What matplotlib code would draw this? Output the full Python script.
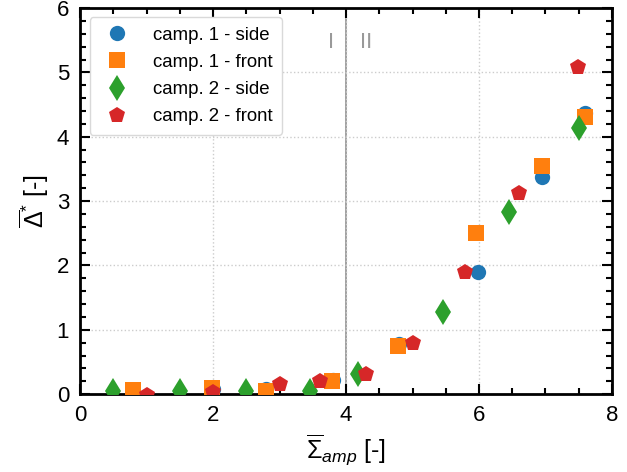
import matplotlib
matplotlib.use('Agg')
from matplotlib import pyplot as plt
from matplotlib.ticker import MultipleLocator

plt.rcParams['font.family'] = ['Liberation Sans', 'DejaVu Sans']
plt.rcParams['mathtext.fontset'] = 'custom'
plt.rcParams['mathtext.rm'] = 'Liberation Sans'
plt.rcParams['mathtext.it'] = 'Liberation Sans:italic'
plt.rcParams['mathtext.bf'] = 'Liberation Sans:bold'

# campagna 1 - side
c1_side_x = [0.8, 2.0, 2.8, 3.8, 4.8, 5.98, 6.95, 7.6]
c1_side_y = [0.05, 0.08, 0.08, 0.22, 0.78, 1.9, 3.37, 4.37]
# campagna 1 - front
c1_front_x = [0.8, 1.98, 2.79, 3.79, 4.78, 5.95, 6.94, 7.6]
c1_front_y = [0.07, 0.1, 0.05, 0.2, 0.75, 2.5, 3.55, 4.31]
# campagna 2 - side
c2_side_x = [0.5, 1.5, 2.49, 3.46, 4.18, 5.46, 6.45, 7.5]
c2_side_y = [0.05, 0.05, 0.05, 0.05, 0.31, 1.27, 2.83, 4.14]
# campagna 2 - front
c2_front_x = [1.0, 2.0, 3.0, 3.6, 4.3, 5.0, 5.79, 6.6, 7.49]
c2_front_y = [-0.02, 0.03, 0.16, 0.2, 0.32, 0.8, 1.9, 3.12, 5.09]

fig = plt.figure(figsize=(6.27, 4.72), dpi=100)
ax = fig.add_axes([0.128, 0.165, 0.848, 0.818])

ax.grid(True, which='major', color='0.8', linestyle=':', linewidth=1)
ax.axvline(4, color='0.6', linewidth=1.3, zorder=1)
ax.text(3.78, 5.47, 'I', color='0.6', fontsize=16, ha='center', va='center')
ax.text(4.3, 5.47, 'II', color='0.6', fontsize=16, ha='center', va='center')

ax.plot(c1_side_x, c1_side_y, 'o', color='#1f77b4', ms=11, mew=0, label='camp. 1 - side', zorder=3)
ax.plot(c1_front_x, c1_front_y, 's', color='#ff7f0e', ms=11, mew=0, label='camp. 1 - front', zorder=3)
ax.plot(c2_side_x, c2_side_y, 'd', color='#2ca02c', ms=13, mew=0, label='camp. 2 - side', zorder=3)
ax.plot(c2_front_x, c2_front_y, 'p', color='#d62728', ms=12, mew=0, label='camp. 2 - front', zorder=3)

ax.set_xlim(0, 8)
ax.set_ylim(0, 6)
ax.xaxis.set_major_locator(MultipleLocator(2))
ax.xaxis.set_minor_locator(MultipleLocator(0.5))
ax.yaxis.set_major_locator(MultipleLocator(1))
ax.yaxis.set_minor_locator(MultipleLocator(0.2))
ax.tick_params(which='both', direction='in', top=True, right=True, labelsize=16, width=1.5)
ax.tick_params(which='major', length=7, pad=8)
ax.tick_params(which='minor', length=4)
for s in ax.spines.values():
    s.set_linewidth(2)

ax.set_xlabel(r'$\overline{\Sigma}_{amp}$ [-]', fontsize=18)
ax.set_ylabel(r'$\overline{\Delta}^{*}$ [-]', fontsize=18)

ax.legend(loc='upper left', fontsize=13.4, handlelength=2, handletextpad=0.9,
          borderpad=0.5, labelspacing=0.55, framealpha=1, edgecolor='0.85')

fig.savefig('out.png', dpi=100)
